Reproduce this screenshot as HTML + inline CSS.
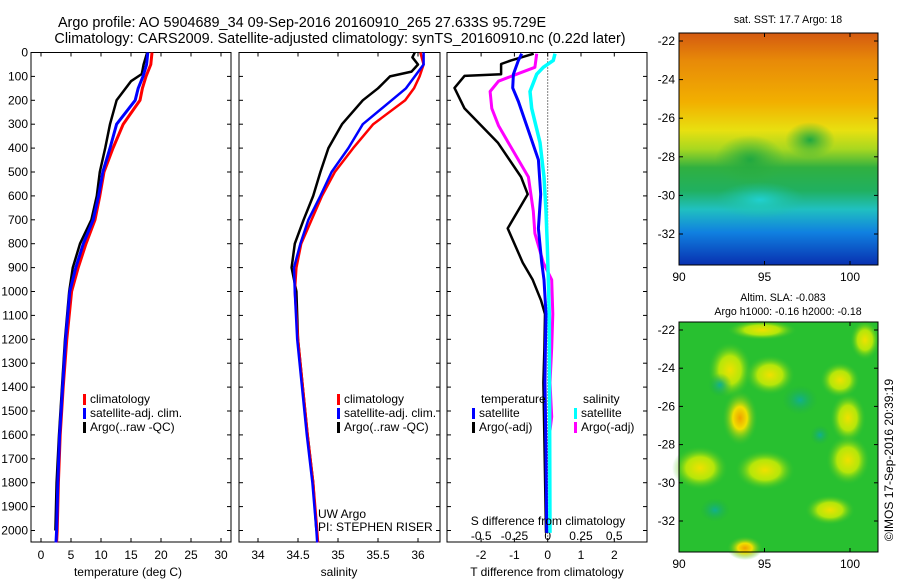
<!DOCTYPE html>
<html><head><meta charset="utf-8"><style>
html,body{margin:0;padding:0;background:#fff;}
svg{display:block;font-family:"Liberation Sans",sans-serif;}
text{fill:#000;font-size:12px;}
</style></head><body>
<svg id="fig" width="900" height="580" viewBox="0 0 900 580">
<defs>
<linearGradient id="sstg" x1="0" y1="0" x2="0" y2="1">
<stop offset="0" stop-color="#d45a10"/><stop offset="0.12" stop-color="#e88a08"/>
<stop offset="0.3" stop-color="#f2b000"/><stop offset="0.42" stop-color="#e8e010"/>
<stop offset="0.5" stop-color="#a8d820"/><stop offset="0.58" stop-color="#30b040"/>
<stop offset="0.68" stop-color="#20b060"/><stop offset="0.76" stop-color="#20c0c0"/>
<stop offset="0.86" stop-color="#1080e0"/><stop offset="1" stop-color="#0830b0"/>
</linearGradient>
<radialGradient id="ylw"><stop offset="0" stop-color="#f0e000"/><stop offset="0.5" stop-color="#d8f000" stop-opacity="0.8"/><stop offset="1" stop-color="#30c030" stop-opacity="0"/></radialGradient>
<radialGradient id="org"><stop offset="0" stop-color="#f0a000"/><stop offset="0.4" stop-color="#f0e000"/><stop offset="1" stop-color="#30c030" stop-opacity="0"/></radialGradient>
<radialGradient id="teal"><stop offset="0" stop-color="#10b090"/><stop offset="1" stop-color="#20b040" stop-opacity="0"/></radialGradient>
<radialGradient id="cyanb"><stop offset="0" stop-color="#20d0d0"/><stop offset="1" stop-color="#20c0a0" stop-opacity="0"/></radialGradient>
<radialGradient id="grnb"><stop offset="0" stop-color="#20a840"/><stop offset="1" stop-color="#30b040" stop-opacity="0"/></radialGradient>
</defs>
<g id="plots"></g>
</svg>
<script>
// ---- data ----
const depthGrid = [0,50,100,150,200,300,400,500,600,700,800,900,1000,1200,1400,1600,1800,2000,2050];
const tempClim = [18.5,18.3,17.5,16.9,16.5,13.7,12.0,10.5,9.8,9.0,7.5,6.2,5.1,4.3,3.7,3.2,2.9,2.7,2.6];
const tempSat = [17.8,17.6,17.0,16.2,15.7,12.6,11.5,10.3,9.6,8.7,7.05,5.8,4.8,4.1,3.6,3.1,2.8,2.6,2.5];
const blackTDepth = [0,50,90,120,200,300,400,500,600,700,800,900,1000,1200,1400,1600,1800,2000];
const tempArgo = [17.7,17.1,16.8,15.0,12.6,11.5,10.7,9.8,9.3,8.4,6.5,5.3,4.7,4.0,3.5,3.0,2.6,2.4];
const salClim = [36.03,36.07,36.02,35.95,35.84,35.44,35.19,34.96,34.8,34.67,34.54,34.48,34.46,34.5,34.56,34.62,34.69,34.74,34.75];
const salSat = [36.07,36.07,35.96,35.85,35.67,35.31,35.13,34.92,34.78,34.63,34.53,34.45,34.46,34.49,34.55,34.61,34.68,34.73,34.74];
const blackSDepth = [0,20,50,80,100,150,200,300,400,500,600,700,800,900,1000,1200,1400,1600,1800,2000];
const salArgo = [35.96,35.93,36.0,35.92,35.65,35.5,35.31,35.05,34.88,34.78,34.69,34.57,34.46,34.42,34.48,34.5,34.56,34.62,34.69,34.73];
const dTArgoDepth = [5,33,48,91,98,148,234,377,521,593,736,879,951,1037,1094,1237,1381,1524,2010];
const dTArgo = [-0.42,-1.1,-1.4,-1.4,-2.5,-2.8,-2.5,-1.5,-0.8,-0.6,-1.2,-0.75,-0.45,-0.2,-0.08,-0.1,-0.13,-0.11,-0.05];
const dTSatDepth = [5,33,91,148,205,306,449,593,736,879,951,1094,1237,1381,1667,2010];
const dTSat = [-0.78,-0.88,-1.03,-1.05,-0.88,-0.63,-0.28,-0.21,-0.28,-0.18,-0.11,-0.05,-0.07,-0.08,-0.05,-0.03];
const dSSatDepth = [5,33,62,91,163,234,377,521,664,807,1094,2010];
const dSSat = [0.055,0.042,-0.033,-0.083,-0.133,-0.12,-0.058,-0.028,-0.013,-0.003,0.012,0.017];
const dSArgoDepth = [5,62,91,120,163,234,306,377,521,664,757,879,951,1094,1237,1381,1524,1581];
const dSArgo = [-0.083,-0.096,-0.233,-0.37,-0.433,-0.42,-0.37,-0.296,-0.145,-0.108,-0.096,-0.033,0.03,0.038,0.03,0.017,0.03,0.017];
const depthTicks = [0,100,200,300,400,500,600,700,800,900,1000,1100,1200,1300,1400,1500,1600,1700,1800,1900,2000];
const tempTicks = [0,5,10,15,20,25,30];
const salTicks = [34,34.5,35,35.5,36];
const salTickLabels = ["34","34.5","35","35.5","36"];
const dTTicks = [-2,-1,0,1,2];
const dSTicks = [-0.5,-0.25,0,0.25,0.5];
const dSTickLabels = ["-0.5","-0.25","0","0.25","0.5"];
const latTicks = [-22,-24,-26,-28,-30,-32];
const lonTicks = [90,95,100];

const NS='http://www.w3.org/2000/svg';
const root=document.getElementById('plots');
function mk(tag,attrs,parent){const e=document.createElementNS(NS,tag);for(const k in attrs)e.setAttribute(k,attrs[k]);(parent||root).appendChild(e);return e;}
function txt(x,y,s,anchor,size){const t=mk('text',{x:x,y:y,'text-anchor':anchor||'middle'});if(size)t.style.fontSize=size+'px';t.textContent=s;return t;}

const TOP=52.5, BOT=542;
function yD(d){return TOP+d*0.239;}
const p1={l:31,r:231}, p2={l:239,r:440}, p3={l:447,r:647};
function xT(v){return 41+v*6;}
function xS(v){return 258+(v-34)*80;}
function xdT(v){return 547.7+v*33.3;}
function xdS(v){return 547.7+v*133;}

function frame(p,name){
  const r=mk('rect',{x:p.l,y:TOP,width:p.r-p.l,height:BOT-TOP,fill:'none',stroke:'#000','stroke-width':1});
  
  
  depthTicks.forEach(d=>{
    mk('line',{x1:p.l,x2:p.l+4,y1:yD(d),y2:yD(d),stroke:'#000'});
    mk('line',{x1:p.r,x2:p.r-4,y1:yD(d),y2:yD(d),stroke:'#000'});
  });
}
frame(p1,'temperature-panel');frame(p2,'salinity-panel');frame(p3,'difference-panel');

depthTicks.forEach(d=>{const t=txt(28,yD(d)+4,String(d),'end');
  
  });

tempTicks.forEach(v=>{const x=xT(v);mk('line',{x1:x,x2:x,y1:BOT,y2:BOT-4,stroke:'#000'});mk('line',{x1:x,x2:x,y1:TOP,y2:TOP+4,stroke:'#000'});
  const t=txt(x,559,String(v));
  
  });
salTicks.forEach((v,i)=>{const x=xS(v);mk('line',{x1:x,x2:x,y1:BOT,y2:BOT-4,stroke:'#000'});mk('line',{x1:x,x2:x,y1:TOP,y2:TOP+4,stroke:'#000'});
  const t=txt(x,559,salTickLabels[i]);
  
  });
dTTicks.forEach(v=>{const x=xdT(v);mk('line',{x1:x,x2:x,y1:BOT,y2:BOT-4,stroke:'#000'});mk('line',{x1:x,x2:x,y1:TOP,y2:TOP+4,stroke:'#000'});
  const t=txt(x,559,String(v));
  
  });
dSTicks.forEach((v,i)=>{const x=xdS(v);
  const t=txt(x,540,dSTickLabels[i]);
  
  });

const zl=mk('line',{x1:xdT(0),x2:xdT(0),y1:TOP,y2:BOT,stroke:'#000','stroke-dasharray':'1,2'});



function series(depths,vals,xf,color,w,name){
  const pts=vals.map((v,i)=>xf(v).toFixed(1)+','+yD(depths[i]).toFixed(1)).join(' ');
  const pl=mk('polyline',{points:pts,fill:'none',stroke:color,'stroke-width':w,'stroke-linejoin':'round'});
  
  
}
series(blackTDepth,tempArgo,xT,'#000',2.5,'temp-argo-line');
series(depthGrid,tempClim,xT,'#f00',3,'temp-climatology-line');
series(depthGrid,tempSat,xT,'#00f',3,'temp-satellite-line');
series(blackSDepth,salArgo,xS,'#000',2.5,'sal-argo-line');
series(depthGrid,salClim,xS,'#f00',2.5,'sal-climatology-line');
series(depthGrid,salSat,xS,'#00f',2.5,'sal-satellite-line');
series(dTArgoDepth,dTArgo,xdT,'#000',2.5,'dt-argo-line');
series(dSArgoDepth,dSArgo,xdS,'#f0f',3,'ds-argo-line');
series(dSSatDepth,dSSat,xdS,'#0ff',3.5,'ds-satellite-line');
series(dTSatDepth,dTSat,xdT,'#00f',3,'dt-satellite-line');

function legItem(x,y,color,label,name){
  const g=mk('g',{});
  
  
  mk('rect',{x:x,y:y-9,width:3,height:11,fill:color},g);
  const t=mk('text',{x:x+7,y:y},g);t.textContent=label;
}
[83,337].forEach(lx=>{
  legItem(lx,403,'#f00','climatology','legend-climatology');
  legItem(lx,417,'#00f','satellite-adj. clim.','legend-satellite-adj');
  legItem(lx,431,'#000','Argo(..raw -QC)','legend-argo-raw');
});
txt(481,403,'temperature','start');
legItem(472,417,'#00f','satellite','legend-temp-satellite');
legItem(472,431,'#000','Argo(-adj)','legend-temp-argo');
txt(583,403,'salinity','start');
legItem(574,417,'#0ff','satellite','legend-sal-satellite');
legItem(574,431,'#f0f','Argo(-adj)','legend-sal-argo');

txt(318,518,'UW Argo','start');
txt(318,531,'PI: STEPHEN RISER','start');
txt(548,525,'S difference from climatology');

const t1=txt(302,27,'Argo profile: AO 5904689_34 09-Sep-2016 20160910_265 27.633S 95.729E',null,14.4);


const t2=txt(340,43,'Climatology: CARS2009. Satellite-adjusted climatology: synTS_20160910.nc (0.22d later)',null,14.4);


const a1=txt(128,576,'temperature (deg C)');
const a2=txt(339,576,'salinity');
const a3=txt(547,576,'T difference from climatology');

function mapAxes(top,bot,latY){
  const L=679,R=878;
  lonTicks.forEach(v=>{const x=L+(v-90)*17.1;mk('line',{x1:x,x2:x,y1:bot,y2:bot-4,stroke:'#000'});mk('line',{x1:x,x2:x,y1:top,y2:top+4,stroke:'#000'});
    const t=txt(x,bot+16,String(v));
    
    });
  latTicks.forEach(v=>{const y=latY(v);mk('line',{x1:L,x2:L+4,y1:y,y2:y,stroke:'#000'});mk('line',{x1:R,x2:R-4,y1:y,y2:y,stroke:'#000'});
    const t=txt(675,y+4,String(v),'end');
    
    });
  mk('rect',{x:L,y:top,width:R-L,height:bot-top,fill:'none',stroke:'#000'});
}
const m1g=mk('g',{});


mk('rect',{x:679,y:33,width:199,height:232,fill:'url(#sstg)'},m1g);
[[760,200,45,18,'cyanb'],[750,160,35,25,'grnb'],[810,140,25,18,'grnb']].forEach(b=>mk('ellipse',{cx:b[0],cy:b[1],rx:b[2],ry:b[3],fill:'url(#'+b[4]+')'},m1g));
mapAxes(33,265,v=>41+(-22-v)*19.3);
txt(788,23,'sat. SST: 17.7  Argo: 18',null,10.6);

const m2g=mk('g',{});


mk('rect',{x:679,y:322,width:199,height:230,fill:'#28c030'},m2g);
[[730,370,22,28,'ylw'],[770,375,25,20,'ylw'],[840,380,20,18,'ylw'],[865,340,15,20,'ylw'],[762,330,35,10,'ylw'],
 [740,418,18,28,'org'],[848,418,18,25,'ylw'],[700,468,28,22,'ylw'],[765,470,30,20,'ylw'],[848,460,22,25,'ylw'],
 [745,548,18,12,'org'],[830,510,25,15,'ylw'],[820,435,10,10,'teal'],[720,385,12,12,'teal'],[715,510,15,12,'teal'],[800,400,18,15,'teal']
].forEach(b=>mk('ellipse',{cx:b[0],cy:b[1],rx:b[2],ry:b[3],fill:'url(#'+b[4]+')'},m2g));
mapAxes(322,552,v=>330+(-22-v)*19.1);
txt(783,301,'Altim. SLA: -0.083',null,10.6);
txt(788,315,'Argo h1000: -0.16 h2000: -0.18',null,10.6);
const c=txt(0,0,'©IMOS 17-Sep-2016 20:39:19');
c.setAttribute('transform','translate(893,460) rotate(-90)');


</script>
</body></html>
